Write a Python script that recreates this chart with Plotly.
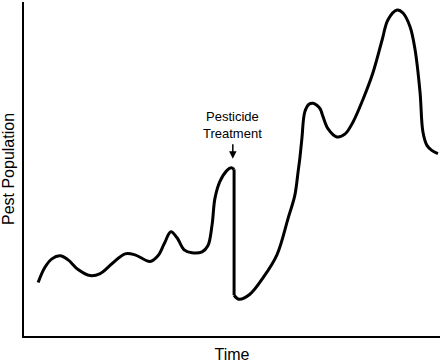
import plotly.graph_objects as go

# Time (arbitrary units, 0-100) and pest population (arbitrary units, 0-100)
# Before the treatment
time_before = [3.4, 5.0, 6.7, 8.7, 10.6, 13.0, 15.9, 18.3, 21.2, 24.3, 26.7, 30.3, 32.2,
               33.7, 35.3, 36.8, 38.5, 40.4, 42.8, 44.2, 45.2, 45.9, 47.1, 48.8, 49.8, 50.5]
pop_before = [16.0, 20.5, 23.1, 24.0, 22.8, 19.9, 18.1, 18.7, 21.7, 24.6, 24.3, 22.3, 24.0,
              27.6, 31.2, 29.4, 25.8, 24.9, 25.2, 27.0, 33.2, 41.2, 46.3, 49.6, 50.4, 49.9]
# The crash at treatment
time_drop = [50.5, 50.5]
pop_drop = [49.9, 12.2]
# After the treatment (resurgence)
time_after = [50.5, 51.7, 54.3, 57.5, 60.8, 63.5, 65.1, 65.9, 66.3, 66.8, 67.5, 68.5, 69.5,
              70.4, 71.2, 71.9, 73.1, 75.2, 77.2, 79.1, 81.5, 83.9, 86.1, 87.5, 89.7, 91.1,
              92.8, 94.0, 95.2, 95.9, 96.9, 98.1, 99.5]
pop_after = [12.2, 11.0, 12.5, 17.5, 24.3, 35.3, 42.1, 49.3, 53.1, 59.1, 67.1, 69.4, 69.7,
             69.1, 68.0, 65.6, 62.0, 59.6, 60.5, 64.1, 70.9, 78.9, 88.7, 94.7, 97.6, 96.7,
             92.6, 85.8, 73.0, 61.1, 57.0, 55.5, 54.6]

treatment_time = 50.2
treatment_pop = 53.1

FONT = "Liberation Sans, Arial, Helvetica, sans-serif"

fig = go.Figure()
fig.add_trace(go.Scatter(x=time_before, y=pop_before, mode="lines",
                         line=dict(color="black", width=3, shape="spline", smoothing=1),
                         hoverinfo="skip", showlegend=False))
fig.add_trace(go.Scatter(x=time_drop, y=pop_drop, mode="lines",
                         line=dict(color="black", width=3),
                         hoverinfo="skip", showlegend=False))
fig.add_trace(go.Scatter(x=time_after, y=pop_after, mode="lines",
                         line=dict(color="black", width=3, shape="spline", smoothing=1),
                         hoverinfo="skip", showlegend=False))

fig.add_annotation(x=treatment_time, y=treatment_pop, text="Pesticide<br>Treatment",
                   showarrow=True, arrowhead=2, arrowsize=1, arrowwidth=1.5,
                   arrowcolor="black", ax=0, ay=-34, startstandoff=2,
                   font=dict(family=FONT, size=13, color="black"))

fig.update_layout(
    width=440, height=363,
    margin=dict(l=24, r=0, t=2, b=24),
    paper_bgcolor="white", plot_bgcolor="white",
    font=dict(family=FONT, size=13, color="black"),
    xaxis=dict(range=[0, 100], showline=True, linewidth=2, linecolor="black",
               showgrid=False, zeroline=False, showticklabels=False, ticks="",
               title=dict(text="Time", standoff=16)),
    yaxis=dict(range=[0, 100], showline=True, linewidth=2, linecolor="black",
               showgrid=False, zeroline=False, showticklabels=False, ticks="",
               title=dict(text="Pest Population", standoff=6)),
)

fig.write_html("out.html")
